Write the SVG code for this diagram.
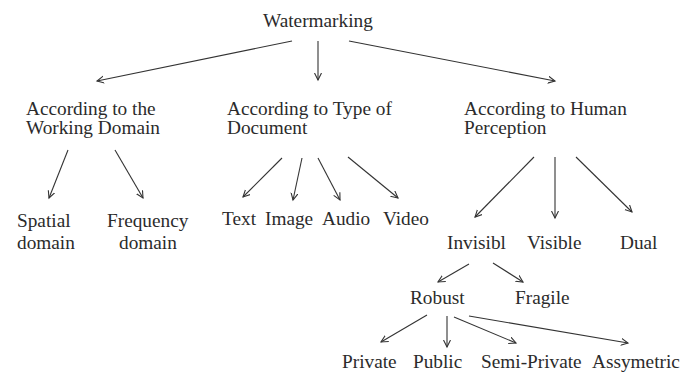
<svg xmlns="http://www.w3.org/2000/svg" width="683" height="374" viewBox="0 0 683 374">
<style>
text{font-family:"Liberation Serif","Times New Roman",serif;font-size:19.3px;fill:#2b2b2b}
.c line{stroke:#333;stroke-width:1.1;fill:none;marker-end:url(#ah)}
</style>
<defs>
<marker id="ah" markerUnits="userSpaceOnUse" markerWidth="10" markerHeight="10" refX="7" refY="4" orient="auto">
<path d="M0,0.5 L7,4 L0,7.5" fill="none" stroke="#333" stroke-width="1.1"/>
</marker>
</defs>
<rect width="683" height="374" fill="#fff"/>
<g class="c" id="connectors">
<line x1="292" y1="41" x2="97" y2="81"/>
<line x1="318" y1="41" x2="318" y2="80"/>
<line x1="349" y1="41" x2="555" y2="81"/>
<line x1="68" y1="150" x2="49" y2="198"/>
<line x1="115" y1="150" x2="143" y2="198"/>
<line x1="282" y1="158" x2="243" y2="197"/>
<line x1="302" y1="158" x2="293" y2="200"/>
<line x1="318" y1="158" x2="340" y2="200"/>
<line x1="348" y1="157" x2="398" y2="198"/>
<line x1="534" y1="157" x2="475" y2="217"/>
<line x1="555" y1="157" x2="555" y2="218"/>
<line x1="576" y1="157" x2="632" y2="212"/>
<line x1="469" y1="264" x2="438" y2="282"/>
<line x1="493" y1="263" x2="523" y2="282"/>
<line x1="427" y1="315" x2="381" y2="342"/>
<line x1="447" y1="316" x2="447" y2="347"/>
<line x1="454" y1="317" x2="516" y2="343"/>
<line x1="469" y1="316" x2="628" y2="343"/>
</g>
<g id="watermarking"><text x="263" y="27">Watermarking</text></g>
<g id="working-domain"><text x="26" y="115">According to the</text><text x="26" y="134">Working Domain</text></g>
<g id="type-document"><text x="227" y="115">According to Type of</text><text x="227" y="134">Document</text></g>
<g id="human-perception"><text x="464" y="115">According to Human</text><text x="464" y="134">Perception</text></g>
<g id="spatial"><text x="17" y="227">Spatial</text><text x="17" y="249">domain</text></g>
<g id="frequency"><text x="107" y="227">Frequency</text><text x="119" y="249">domain</text></g>
<g id="text"><text x="222" y="225">Text</text></g>
<g id="image"><text x="265" y="225">Image</text></g>
<g id="audio"><text x="322" y="225">Audio</text></g>
<g id="video"><text x="383" y="225">Video</text></g>
<g id="invisibl"><text x="447" y="249">Invisibl</text></g>
<g id="visible"><text x="527" y="249">Visible</text></g>
<g id="dual"><text x="620" y="249">Dual</text></g>
<g id="robust"><text x="410" y="304">Robust</text></g>
<g id="fragile"><text x="515" y="304">Fragile</text></g>
<g id="private"><text x="342" y="368">Private</text></g>
<g id="public"><text x="413" y="368">Public</text></g>
<g id="semi-private"><text x="481" y="368">Semi-Private</text></g>
<g id="assymetric"><text x="592" y="368">Assymetric</text></g>
</svg>
